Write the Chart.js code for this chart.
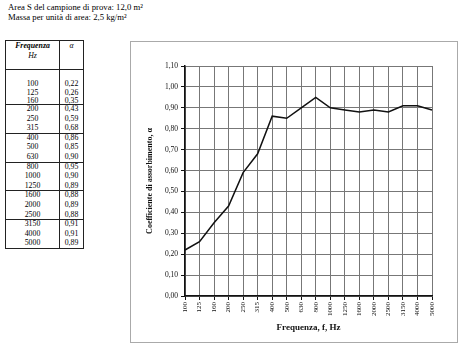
<!DOCTYPE html>
<html><head><meta charset="utf-8">
<script src="https://cdn.jsdelivr.net/npm/chart.js@4"></script>
<style>
body{margin:0;background:#fff;width:469px;height:353px;overflow:hidden;position:relative;font-family:'Liberation Serif',serif;color:#000}
.t{position:absolute;white-space:nowrap;line-height:8px;font-size:7.8px;text-align:center;color:#000}
.h{position:absolute;background:#222}
#box{position:absolute;left:130px;top:41px;width:328px;height:302px;border:1px solid #aaa;box-sizing:border-box}
#c{position:absolute;left:131px;top:42px}
</style></head><body>
<div class="t" style="left:8px;top:3px;font-size:8.7px;line-height:9px;text-align:left">Area S del campione di prova: 12,0 m²</div>
<div class="t" style="left:8px;top:13px;font-size:8.7px;line-height:9px;text-align:left">Massa per unità di area: 2,5 kg/m²</div>
<div id="tbl"></div>
<div id="box"></div>
<canvas id="c" width="327" height="301"></canvas>
<script>
const frequencies = ['100','125','160','200','250','315','400','500','630','800','1000','1250','1600','2000','2500','3150','4000','5000'];
const alpha = [0.22,0.26,0.35,0.43,0.59,0.68,0.86,0.85,0.90,0.95,0.90,0.89,0.88,0.89,0.88,0.91,0.91,0.89];
const yTickLabels = ['0,00','0,10','0,20','0,30','0,40','0,50','0,60','0,70','0,80','0,90','1,00','1,10'];

// table
const tbl = document.getElementById('tbl');
function add(html){ tbl.insertAdjacentHTML('beforeend', html); }
add('<div class="h" style="left:5px;top:40px;width:79px;height:1px"></div>');
add('<div class="h" style="left:5px;top:248px;width:79px;height:1px"></div>');
add('<div class="h" style="left:5px;top:40px;width:1px;height:209px"></div>');
add('<div class="h" style="left:83px;top:40px;width:1px;height:209px"></div>');
add('<div class="h" style="left:59px;top:40px;width:1px;height:209px"></div>');
add('<div class="h" style="left:5px;top:69px;width:79px;height:1px"></div>');
for (let g = 0; g < 5; g++) {
  add('<div class="h" style="left:5px;top:' + (104 + g*28.8).toFixed(1) + 'px;width:79px;height:1px"></div>');
}
add('<div class="t" style="left:6px;top:42px;width:53px;font-style:italic;font-weight:bold">Frequenza</div>');
add('<div class="t" style="left:6px;top:52px;width:53px;font-style:italic">Hz</div>');
add('<div class="t" style="left:60px;top:42px;width:23px;font-style:italic">α</div>');
frequencies.forEach((f, i) => {
  const g = Math.floor(i/3), j = i % 3;
  const y = g === 0 ? 84 + j*8.5 : 104 + (g-1)*28.8 + 5 + j*9.6;
  add('<div class="t" style="left:6px;top:' + (y-4).toFixed(1) + 'px;width:53px">' + f + '</div>');
  add('<div class="t" style="left:60px;top:' + (y-4).toFixed(1) + 'px;width:23px">' + alpha[i].toFixed(2).replace('.', ',') + '</div>');
});

const serif = 'Liberation Serif';
new Chart(document.getElementById('c').getContext('2d'), {
  type: 'line',
  data: {
    labels: frequencies,
    datasets: [{ data: alpha, borderColor: '#111', borderWidth: 1.5, pointRadius: 0, tension: 0, fill: false }]
  },
  options: {
    responsive: false,
    animation: false,
    layout: { padding: { left: 0, top: 24, right: 26, bottom: 0 } },
    plugins: { legend: { display: false }, tooltip: { enabled: false } },
    scales: {
      x: {
        grid: { color: '#777', lineWidth: 1, tickLength: 4, tickColor: '#111' },
        border: { color: '#111', width: 1.5 },
        ticks: { autoSkip: false, maxRotation: 90, minRotation: 90, padding: 2, color: '#111', font: { family: serif, size: 7 } },
        title: { display: true, text: 'Frequenza, f, Hz', color: '#111', font: { family: serif, size: 9, weight: 'bold' }, padding: { top: 0, bottom: 10 } },
        afterFit(s) { s.height = 47; }
      },
      y: {
        min: 0, max: 1.1,
        grid: { color: '#777', lineWidth: 1, tickLength: 4, tickColor: '#111' },
        border: { color: '#111', width: 1.5 },
        ticks: { stepSize: 0.1, padding: 3, color: '#111', font: { family: serif, size: 7.5 },
                 callback: (v) => yTickLabels[Math.round(v*10)] },
        title: { display: true, text: 'Coefficiente di assorbimento, α', color: '#111', font: { family: serif, size: 8, weight: 'bold' }, padding: { top: 14, bottom: 0 } },
        afterFit(s) { s.width = 54; }
      }
    }
  }
});
</script>
</body></html>
